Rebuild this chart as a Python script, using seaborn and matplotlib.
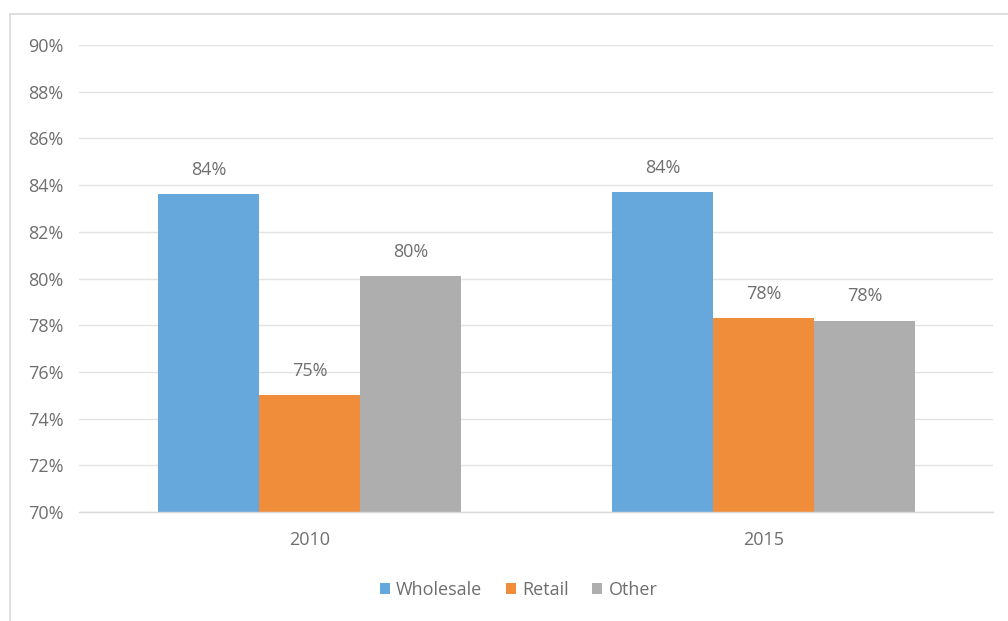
import matplotlib
matplotlib.use("Agg")
import matplotlib.pyplot as plt
from matplotlib.patches import Rectangle
import seaborn as sns
import pandas as pd

years = ["2010", "2015"]
segments = ["Wholesale", "Retail", "Other"]
wholesale = [83.6, 83.7]
retail = [75.0, 78.3]
other = [80.1, 78.2]
y_ticks = [70, 72, 74, 76, 78, 80, 82, 84, 86, 88, 90]

colors = ["#67A8DC", "#F08D3B", "#AEAEAE"]

rows = []
for seg, vals in zip(segments, [wholesale, retail, other]):
    for yr, v in zip(years, vals):
        rows.append({"Year": yr, "Segment": seg, "Value": v})
df = pd.DataFrame(rows)

sns.set_theme(style="white")
plt.rcParams["font.family"] = ["Open Sans", "DejaVu Sans"]

FS = 13
TXT = "#6E6E6E"

fig = plt.figure(figsize=(10.08, 6.21), dpi=100)
ax = fig.add_axes([79 / 1008, 1 - 512 / 621, (993 - 79) / 1008, (512 - 45) / 621])

sns.barplot(data=df, x="Year", y="Value", hue="Segment", order=years,
            hue_order=segments, palette=colors, width=0.667, gap=0,
            saturation=1, ax=ax, legend=True, linewidth=0)

ax.set_ylim(70, 90)
ax.set_xlim(-0.508, 1.505)
ax.set_yticks(y_ticks)
ax.set_yticklabels([f"{t}%" for t in y_ticks])
ax.yaxis.grid(True, color="#E3E3E3", linewidth=1)
ax.set_axisbelow(True)
for s in ["top", "right", "left"]:
    ax.spines[s].set_visible(False)
ax.spines["bottom"].set_color("#DADADA")
ax.spines["bottom"].set_linewidth(1)
ax.tick_params(axis="both", length=0, labelsize=FS, labelcolor=TXT)
ax.tick_params(axis="y", pad=11)
ax.tick_params(axis="x", pad=14)
ax.set_xlabel("")
ax.set_ylabel("")

for cont in ax.containers:
    ax.bar_label(cont, labels=[f"{round(v)}%" for v in cont.datavalues],
                 padding=11, fontsize=FS, color=TXT)

leg = ax.legend(loc="center", bbox_to_anchor=(0.481, -0.167), ncol=3, frameon=False,
                fontsize=FS, handlelength=0.55, handleheight=0.55,
                handletextpad=0.35, columnspacing=1.3)
for t in leg.get_texts():
    t.set_color(TXT)

fig.patches.append(Rectangle((10 / 1008, -0.05), 1.2, 1 - 14 / 621 + 0.05,
                             transform=fig.transFigure, fill=False,
                             edgecolor="#D9D9D9", linewidth=1.2))

fig.savefig("out.png", dpi=100)
